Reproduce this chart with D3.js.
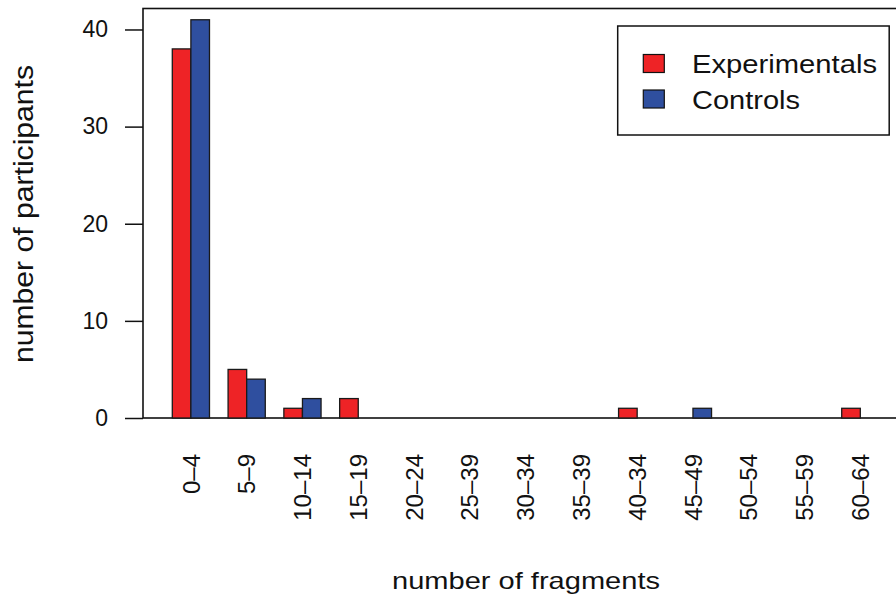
<!DOCTYPE html>
<html>
<head>
<meta charset="utf-8">
<script src="https://cdn.jsdelivr.net/npm/d3@7"></script>
<style>
  html, body { margin: 0; padding: 0; background: #fff; }
  svg { display: block; font-family: "Liberation Sans", Arial, sans-serif; }
</style>
</head>
<body>
<svg id="chart" width="896" height="601"></svg>
<script>
// Fragment-count bins and participant counts per group
const categories = ["0–4", "5–9", "10–14", "15–19", "20–24", "25–39", "30–34",
                    "35–39", "40–34", "45–49", "50–54", "55–59", "60–64"];
const seriesNames = ["Experimentals", "Controls"];
const experimentals = [38, 5, 1, 2, 0, 0, 0, 0, 1, 0, 0, 0, 1];
const controls      = [41, 4, 2, 0, 0, 0, 0, 0, 0, 1, 0, 0, 0];
const yTicks = [0, 10, 20, 30, 40];
const colors = ["#ee2326", "#2f4f9f"];

const svg = d3.select("#chart");

const plotLeft = 143, plotTop = 8.5, plotBottom = 418;

const y = d3.scaleLinear().domain([0, 42.16]).range([plotBottom, plotTop]);
const x0 = d3.scaleBand().domain(categories).range([153.7, 878.9]).padding(0);
const step = x0.bandwidth();
const x1 = d3.scaleBand().domain(seriesNames).range([step / 3, step]).padding(0);

// plot frame (top, left and baseline)
svg.append("rect")
  .attr("x", plotLeft).attr("y", plotTop)
  .attr("width", 1000).attr("height", plotBottom - plotTop)
  .attr("fill", "none").attr("stroke", "#111").attr("stroke-width", 1.6);

// bars
const rows = categories.map((c, i) => ({ cat: c, values: [experimentals[i], controls[i]] }));
const groups = svg.append("g").selectAll("g").data(rows).join("g")
  .attr("transform", d => `translate(${x0(d.cat)},0)`);
groups.selectAll("rect")
  .data(d => d.values.map((v, j) => ({ key: seriesNames[j], value: v, j })).filter(d => d.value > 0))
  .join("rect")
  .attr("x", d => x1(d.key))
  .attr("y", d => y(d.value))
  .attr("width", x1.bandwidth())
  .attr("height", d => y(0) - y(d.value))
  .attr("fill", d => colors[d.j])
  .attr("stroke", "#1a1a1a").attr("stroke-width", 1.3);

// y axis
const yAxis = d3.axisLeft(y).tickValues(yTicks).tickSize(18).tickPadding(17).tickFormat(d3.format("d"));
const ya = svg.append("g").attr("transform", `translate(${plotLeft},0)`).call(yAxis);
ya.select(".domain").remove();
ya.selectAll(".tick line").attr("stroke", "#111").attr("stroke-width", 1.5);
ya.selectAll(".tick text").attr("font-size", 23).attr("fill", "#111")
  .attr("font-family", "Liberation Sans, Arial, sans-serif");

// category labels (rotated)
svg.append("g").selectAll("text").data(categories).join("text")
  .attr("transform", d => `translate(${x0(d) + step / 3 + x1.bandwidth()},454) rotate(-90)`)
  .attr("dy", "0.36em")
  .attr("text-anchor", "end")
  .attr("font-size", 24)
  .attr("fill", "#111")
  .text(d => d);

// axis titles
svg.append("text")
  .attr("x", 392).attr("y", 589)
  .attr("font-size", 24).attr("fill", "#111")
  .attr("textLength", 268).attr("lengthAdjust", "spacingAndGlyphs")
  .text("number of fragments");

svg.append("text")
  .attr("transform", "translate(33,363) rotate(-90)")
  .attr("font-size", 27).attr("fill", "#111")
  .attr("textLength", 298).attr("lengthAdjust", "spacingAndGlyphs")
  .text("number of participants");

// legend
const legend = svg.append("g");
legend.append("rect")
  .attr("x", 617.7).attr("y", 26).attr("width", 271.5).attr("height", 109)
  .attr("fill", "#fff").attr("stroke", "#111").attr("stroke-width", 1.5);
const legendLengths = [185, 108];
const legendItems = legend.selectAll("g.item").data(seriesNames).join("g")
  .attr("class", "item")
  .attr("transform", (d, i) => `translate(0,${i * 35.5})`);
legendItems.append("rect")
  .attr("x", 643.3).attr("y", 54.5).attr("width", 21).attr("height", 18)
  .attr("fill", (d, i) => colors[i]).attr("stroke", "#111").attr("stroke-width", 1.2);
legendItems.append("text")
  .attr("x", 692).attr("y", 73)
  .attr("font-size", 25).attr("fill", "#111")
  .attr("textLength", (d, i) => legendLengths[i]).attr("lengthAdjust", "spacingAndGlyphs")
  .text(d => d);
</script>
</body>
</html>
